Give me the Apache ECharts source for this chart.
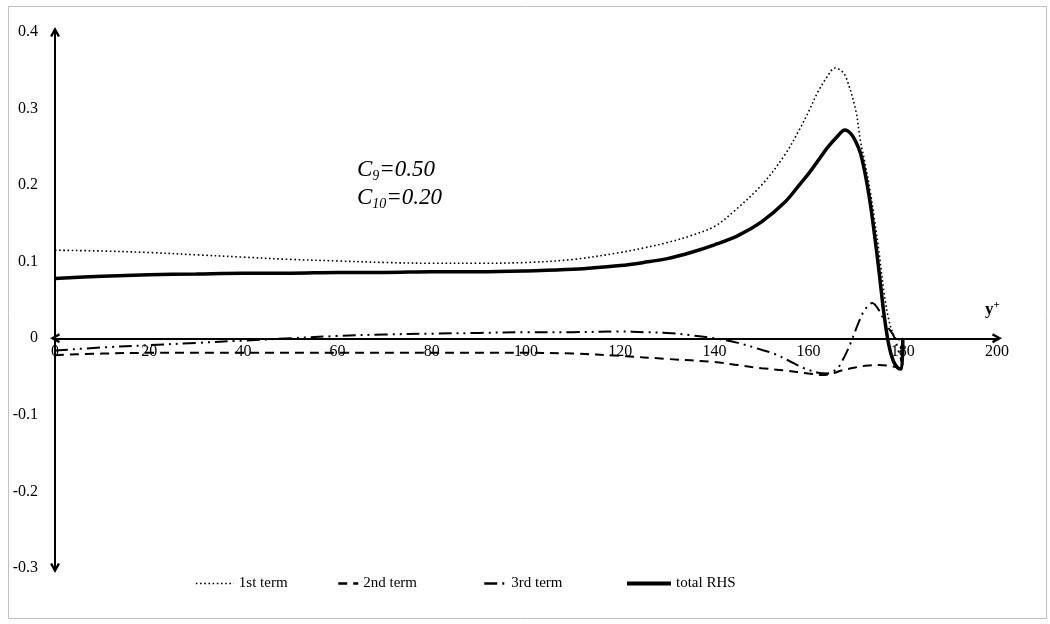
<!DOCTYPE html>
<html>
<head>
<meta charset="utf-8">
<script src="https://cdn.jsdelivr.net/npm/echarts@6/dist/echarts.min.js"></script>
<style>
html,body{margin:0;padding:0;background:#fff;}
#main{width:1050px;height:624px;}
</style>
</head>
<body>
<div id="main"></div>
<script>
// ---- data ----
const xTicks = [0, 20, 40, 60, 80, 100, 120, 140, 160, 180, 200];
const yTicks = [-0.3, -0.2, -0.1, 0, 0.1, 0.2, 0.3, 0.4];
const seriesNames = ['1st term', '2nd term', '3rd term', 'total RHS'];

const term1X = [0,10,20,30,40,50,60,70,80,90,100,110,120,125,130,135,140,144,150,155,158,160,162,164,165.6,167,168,170,171,172,173,174,175,176,177,178,179,180];
const term1Y = [0.115,0.114,0.112,0.109,0.106,0.103,0.101,0.099,0.098,0.098,0.099,0.103,0.112,0.118,0.125,0.134,0.146,0.165,0.200,0.240,0.272,0.296,0.322,0.342,0.353,0.349,0.340,0.298,0.258,0.228,0.195,0.155,0.110,0.060,0.025,0.005,-0.002,0.000];

const term2X = [0,10,20,40,60,80,100,110,120,130,140,145,150,155,160,163,165,167,170,172,175,178,180];
const term2Y = [-0.022,-0.020,-0.019,-0.019,-0.019,-0.019,-0.019,-0.020,-0.023,-0.027,-0.031,-0.035,-0.039,-0.042,-0.046,-0.048,-0.046,-0.042,-0.038,-0.036,-0.035,-0.037,-0.040];

const term3X = [0,10,20,30,40,50,60,70,80,90,100,110,120,125,130,135,140,145,150,153,156,159,162,164,166,167,168,169,170,171,172,173.5,175,176,177,178,179,180];
const term3Y = [-0.016,-0.012,-0.009,-0.006,-0.003,0.000,0.003,0.005,0.006,0.007,0.008,0.008,0.009,0.008,0.007,0.004,0.000,-0.006,-0.015,-0.021,-0.030,-0.039,-0.045,-0.046,-0.040,-0.031,-0.019,-0.005,0.011,0.026,0.038,0.046,0.036,0.024,0.013,0.004,-0.015,-0.035];

const totalX = [0,10,20,30,40,50,60,70,80,90,100,110,120,125,130,135,140,145,150,155,158,160,162,164,166,167.7,169,170,171,172,173,174,175,176,177,178,179,179.7,180];
const totalY = [0.078,0.081,0.083,0.084,0.085,0.085,0.086,0.086,0.087,0.087,0.088,0.090,0.095,0.099,0.104,0.112,0.122,0.134,0.152,0.178,0.200,0.215,0.232,0.249,0.263,0.272,0.267,0.257,0.242,0.215,0.180,0.135,0.085,0.032,-0.008,-0.030,-0.039,-0.040,0.000];

function pairs(xs, ys){ return xs.map((x,i)=>[x, ys[i]]); }

const FONT = '"Liberation Serif", "Times New Roman", serif';
const chevron = 'path://M0,9 L5,0 L10,9 L7.8,10 L5,4.6 L2.2,10 Z';

const GRID = {left:55, right:53, top:32, bottom:56};
const H = 624;
const yMin = yTicks[0], yMax = yTicks[yTicks.length-1];
const plotH = H - GRID.top - GRID.bottom;
const zeroFromBottom = plotH * (0 - yMin) / (yMax - yMin);

const chart = echarts.init(document.getElementById('main'), null, {renderer:'canvas'});

const lineCommon = { type:'line', showSymbol:false, symbol:'none', smooth:0.35, z:3 };

const legendBase = (name, left, w, lw) => ({
  data:[name], left:left, top:571, itemWidth:w, itemHeight:14, itemGap:0,
  textStyle:{fontFamily:FONT, fontSize:15, color:'#000'},
  itemStyle:{opacity:0},
  lineStyle:{width:lw},
  selectedMode:false
});

chart.setOption({
  animation:false,
  backgroundColor:'#fff',
  grid:Object.assign({containLabel:false}, GRID),
  xAxis:{
    type:'value', min:xTicks[0], max:xTicks[xTicks.length-1], interval:20,
    offset:-zeroFromBottom,
    axisLine:{show:true, onZero:false, symbol:[chevron, chevron], symbolSize:[13,10],
      lineStyle:{color:'#000', width:2}},
    axisTick:{show:false},
    splitLine:{show:false},
    axisLabel:{fontFamily:FONT, fontSize:16, color:'#000', margin:6}
  },
  yAxis:{
    type:'value', min:yMin, max:yMax, interval:0.1,
    axisLine:{show:true, onZero:false, symbol:[chevron, chevron], symbolSize:[13,10],
      lineStyle:{color:'#000', width:2}},
    axisTick:{show:false},
    splitLine:{show:false},
    axisLabel:{fontFamily:FONT, fontSize:16, color:'#000', margin:17,
      formatter:v => Math.abs(v) < 1e-9 ? '0' : v.toFixed(1)}
  },
  legend:[
    legendBase(seriesNames[0], 190, 38, 1.6),
    legendBase(seriesNames[1], 332, 20, 2.5),
    legendBase(seriesNames[2], 478, 22, 2.5),
    legendBase(seriesNames[3], 620, 44, 4)
  ],
  graphic:[
    {type:'rect', z:-10, shape:{x:8.5, y:6.5, width:1038, height:612},
     style:{fill:'none', stroke:'#c0c0c0', lineWidth:1}},
    {type:'text', left:357, top:158, z:10,
     style:{text:'{a|C}{s|9}{a|=0.50}', rich:{
       a:{fontFamily:FONT, fontStyle:'italic', fontSize:23, lineHeight:28, fill:'#000', verticalAlign:'middle'},
       s:{fontFamily:FONT, fontStyle:'italic', fontSize:14, lineHeight:14, fill:'#000', verticalAlign:'bottom'}
     }}},
    {type:'text', left:357, top:186, z:10,
     style:{text:'{a|C}{s|10}{a|=0.20}', rich:{
       a:{fontFamily:FONT, fontStyle:'italic', fontSize:23, lineHeight:28, fill:'#000', verticalAlign:'middle'},
       s:{fontFamily:FONT, fontStyle:'italic', fontSize:14, lineHeight:14, fill:'#000', verticalAlign:'bottom'}
     }}},
    {type:'text', left:985, top:300, z:10,
     style:{text:'{b|y}{p|+}', rich:{
       b:{fontFamily:FONT, fontWeight:'bold', fontSize:17, lineHeight:20, fill:'#000', verticalAlign:'middle'},
       p:{fontFamily:FONT, fontWeight:'bold', fontSize:11, lineHeight:11, fill:'#000', verticalAlign:'top'}
     }}}
  ],
  series:[
    Object.assign({}, lineCommon, {name:seriesNames[0], data:pairs(term1X, term1Y),
      lineStyle:{color:'#000', width:1.6, type:[1.6,2.6]}, itemStyle:{color:'#000'}}),
    Object.assign({}, lineCommon, {name:seriesNames[1], data:pairs(term2X, term2Y),
      lineStyle:{color:'#000', width:2, type:[9,6]}, itemStyle:{color:'#000'}}),
    Object.assign({}, lineCommon, {name:seriesNames[2], data:pairs(term3X, term3Y),
      lineStyle:{color:'#000', width:2, type:[13,5,2,5,2,5]}, itemStyle:{color:'#000'}}),
    Object.assign({}, lineCommon, {name:seriesNames[3], data:pairs(totalX, totalY),
      lineStyle:{color:'#000', width:3.5}, itemStyle:{color:'#000'}})
  ]
});
</script>
</body>
</html>
